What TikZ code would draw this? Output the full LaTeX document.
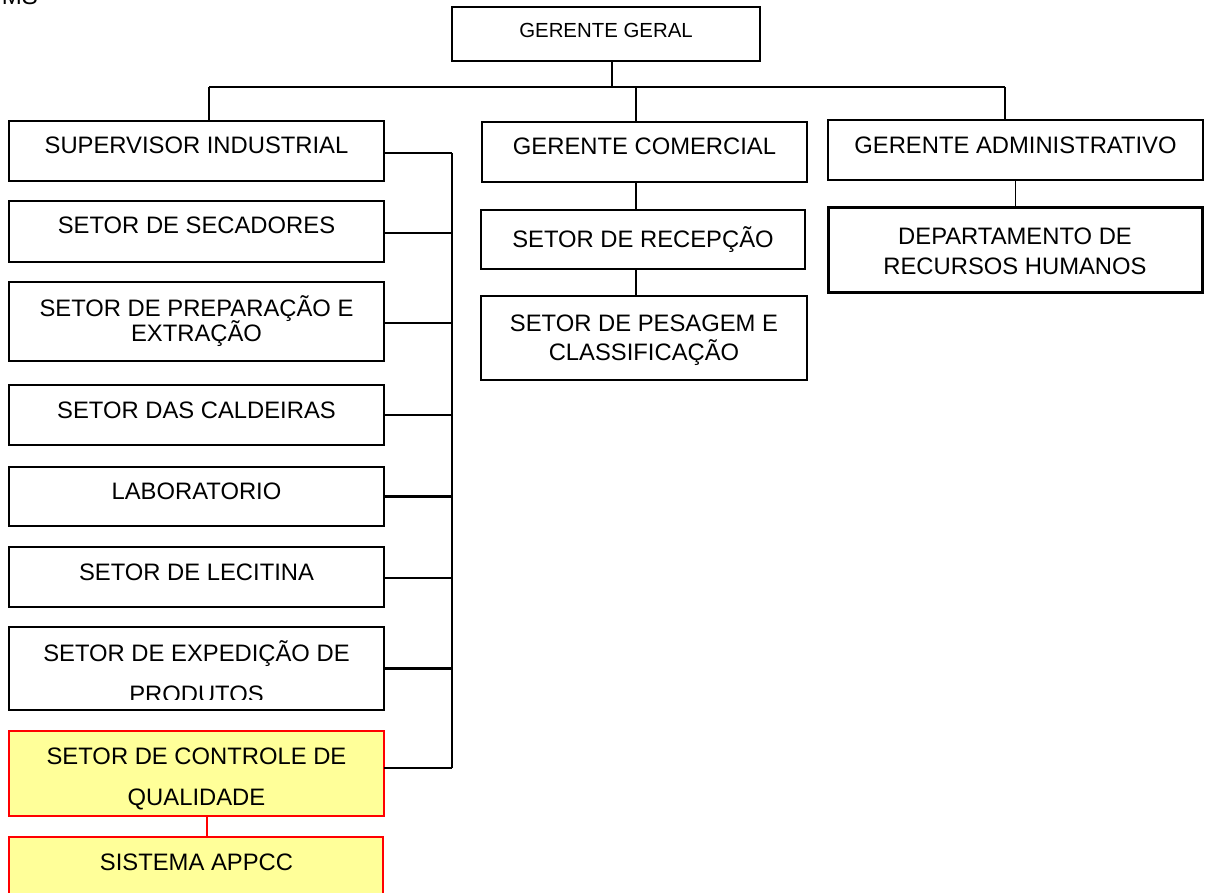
\documentclass[tikz,border=0pt]{standalone}
\usepackage{fontspec}
\setmainfont{Liberation Sans}
\definecolor{qyellow}{HTML}{FFFF99}
\definecolor{qred}{HTML}{FF0000}

% box given by its corners (x1,y1)-(x2,y2), y growing downwards
\newcommand\orgbox[6][]{%
  \pgfmathsetmacro\bx{(#3+#5)/2}\pgfmathsetmacro\by{(#4+#6)/2}%
  \pgfmathsetmacro\bw{#5-#3}\pgfmathsetmacro\bh{#6-#4}%
  \node[unitbox,#1,minimum width=\bw pt,minimum height=\bh pt] (#2) at (\bx,\by) {};}

% two centred lines with a fixed distance between baselines
\newcommand\twoline[3]{\vtop{\baselineskip=#3\lineskiplimit=-\maxdimen
  \halign{\hfil##\hfil\cr#1\cr#2\cr}}}

\tikzset{
  unitbox/.style={draw, rectangle, line width=2.4pt, inner sep=0pt, outer sep=0pt},
  quality/.style={draw=qred, fill=qyellow, line width=2.2pt},
  lbl/.style={anchor=base, inner sep=0pt, font=\fontsize{23.8}{28}\selectfont},
  link/.style={line width=2.4pt},
  thinlink/.style={line width=1.4pt},
  redlink/.style={draw=qred, line width=2.2pt},
}

\begin{document}
\begin{tikzpicture}[x=1pt,y=-1pt]
\useasboundingbox (0,0) rectangle (1210,893);
\clip (0,0) rectangle (1210,893);

% heading cut off at the top edge
\node[anchor=base east, inner sep=0pt, font=\fontsize{24}{28}\selectfont] (head) at (38,4.5) {MS};

% top of the chart
\orgbox{geral}{452}{7}{760}{61}
\node[lbl, font=\fontsize{20.4}{24}\selectfont] (tgeral) at (606,37.7) {GERENTE GERAL};

% industrial column
\orgbox{sup}{9}{121}{384}{181}
\orgbox{sec}{9}{201}{384}{262}
\orgbox{prep}{9}{282}{384}{361}
\orgbox{cald}{9}{385}{384}{445}
\orgbox{lab}{9}{467}{384}{526}
\orgbox{lec}{9}{547}{384}{607}
\orgbox{exp}{9}{627}{384}{710}
\orgbox[quality]{cq}{9}{731}{384}{816}
\orgbox[quality]{appcc}{9}{837}{383}{905}

\node[lbl] (tsup) at (196.5,154) {SUPERVISOR INDUSTRIAL};
\node[lbl] (tsec) at (196.5,234) {SETOR DE SECADORES};
\node[lbl] (tprep) at (196.5,316.7) {\twoline{SETOR DE PREPARAÇÃO E}{EXTRAÇÃO}{25pt}};
\node[lbl] (tcald) at (196.5,418) {SETOR DAS CALDEIRAS};
\node[lbl] (tlab) at (196.5,499) {LABORATORIO};
\node[lbl] (tlec) at (196.5,580) {SETOR DE LECITINA};
\begin{scope}
  \clip (9,627) rectangle (384,699);
  \node[lbl] (texp) at (196.5,661) {\twoline{SETOR DE EXPEDIÇÃO DE}{PRODUTOS}{41pt}};
\end{scope}
\node[lbl] (tcq) at (196.5,764) {\twoline{SETOR DE CONTROLE DE}{QUALIDADE}{41pt}};
\node[lbl] (tappcc) at (196.5,870.7) {SISTEMA APPCC};

% commercial column
\orgbox{com}{482}{122}{807}{182}
\orgbox[line width=2pt]{rec}{481}{210}{805}{269}
\orgbox[line width=2pt]{pes}{481}{296}{807}{380}
\node[lbl] (tcom) at (644.5,155) {GERENTE COMERCIAL};
\node[lbl] (trec) at (643,248) {SETOR DE RECEPÇÃO};
\node[lbl] (tpes) at (644,331.7) {\twoline{SETOR DE PESAGEM E}{CLASSIFICAÇÃO}{28.5pt}};

% administrative column
\orgbox[line width=2pt]{adm}{828}{120}{1203}{180}
\orgbox[line width=3pt]{rh}{828}{208}{1202}{293}
\node[lbl] (tadm) at (1015.5,154) {GERENTE ADMINISTRATIVO};
\node[lbl] (trh) at (1015,245) {\twoline{DEPARTAMENTO DE}{RECURSOS HUMANOS}{30pt}};

% main horizontal bar and drops
\coordinate (barL) at (209,87);
\coordinate (barR) at (1005,87);
\draw[link] (barL) -- (barR);
\draw[link] ([xshift=6pt]geral.south) -- ([xshift=6pt]geral.south |- barL);
\draw[link] (barL) -- (barL |- sup.north);
\draw[link] ([xshift=-8.5pt]com.north) -- ([xshift=-8.5pt]com.north |- barL);
\draw[link] (barR) -- (barR |- adm.north);

% industrial bus
\coordinate (busT) at (452,153);
\coordinate (busB) at (452,768);
\draw[link] (busT) -- (busB);
\draw[link] ([yshift=-2pt]sup.east) -- ([yshift=-2pt]sup.east -| busT);
\draw[link] ([yshift=-1.5pt]sec.east) -- ([yshift=-1.5pt]sec.east -| busT);
\draw[link] ([yshift=-1.5pt]prep.east) -- ([yshift=-1.5pt]prep.east -| busT);
\draw[link] (cald.east) -- (cald.east -| busT);
\draw[link] (lab.east) -- (lab.east -| busT);
\draw[link] ([yshift=-1pt]lec.east) -- ([yshift=-1pt]lec.east -| busT);
\draw[link] (exp.east) -- (exp.east -| busT);
\draw[link] (cq.east |- busB) -- (busB);

% quality branch
\draw[redlink] ([xshift=10.5pt]cq.south) -- ([xshift=10.5pt]cq.south |- appcc.north);

% commercial branch
\coordinate (comx) at (636,182);
\draw[thinlink] (comx) -- (comx |- rec.north);
\draw[thinlink] (comx |- rec.south) -- (comx |- pes.north);

% administrative branch
\draw[thinlink] (adm.south) -- (adm.south |- rh.north);
\end{tikzpicture}
\end{document}
